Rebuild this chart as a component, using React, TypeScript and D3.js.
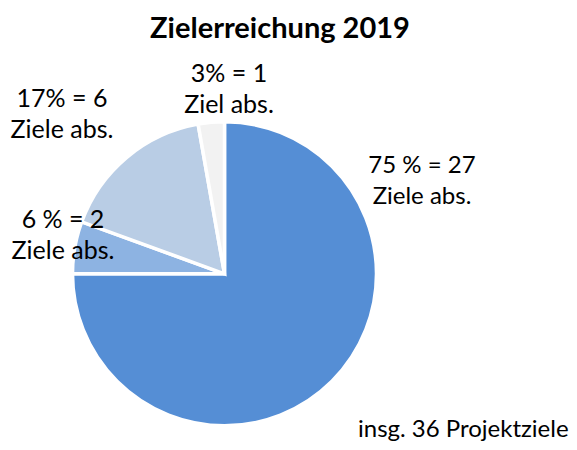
import React from "react";
import * as d3 from "d3";

const categories = ["75 %", "6 %", "17%", "3%"];
const values = [27, 2, 6, 1];
const labelLine1 = ["75 % = 27", "6 % = 2", "17% = 6", "3% = 1"];
const labelLine2 = ["Ziele abs.", "Ziele abs.", "Ziele abs.", "Ziel abs."];
const colors = ["#558ed5", "#8db3e2", "#b9cde5", "#f2f2f2"];
const title = "Zielerreichung 2019";
const footnote = "insg. 36 Projektziele";

// label anchor positions (center x, first baseline y)
const labelPos: [number, number][] = [
  [422, 173],
  [63, 228],
  [62, 107],
  [229, 82],
];

export default function App() {
  const W = 577;
  const H = 450;
  const cx = 224.5;
  const cy = 273.8;
  const r = 152;
  const pie = d3
    .pie<number>()
    .sort(null)
    .value((d) => d)
    .startAngle(0)
    .endAngle(2 * Math.PI);
  const arcs = pie(values);
  const arc = d3.arc<d3.PieArcDatum<number>>().innerRadius(0).outerRadius(r);
  const font = "Lato, 'Open Sans', sans-serif";
  return (
    <svg
      width={W}
      height={H}
      style={{ position: "absolute", left: 0, top: 0, background: "#fff" }}
      fontFamily={font}
    >
      <text x={280} y={38} textAnchor="middle" fontSize={29} fontWeight="bold" fill="#000">
        {title}
      </text>
      <g transform={`translate(${cx},${cy})`}>
        {arcs.map((a, i) => (
          <path
            key={categories[i]}
            d={arc(a) || ""}
            fill={colors[i]}
            stroke="#fff"
            strokeWidth={3.5}
            strokeLinejoin="miter"
          />
        ))}
      </g>
      {labelPos.map(([x, y], i) => (
        <text key={i} textAnchor="middle" fontSize={i === 0 ? 24 : 25} fill="#000">
          <tspan x={x} y={y}>
            {labelLine1[i]}
          </tspan>
          <tspan x={x} y={y + 31}>
            {labelLine2[i]}
          </tspan>
        </text>
      ))}
      <text x={358} y={437} fontSize={24} fill="#000">
        {footnote}
      </text>
    </svg>
  );
}
